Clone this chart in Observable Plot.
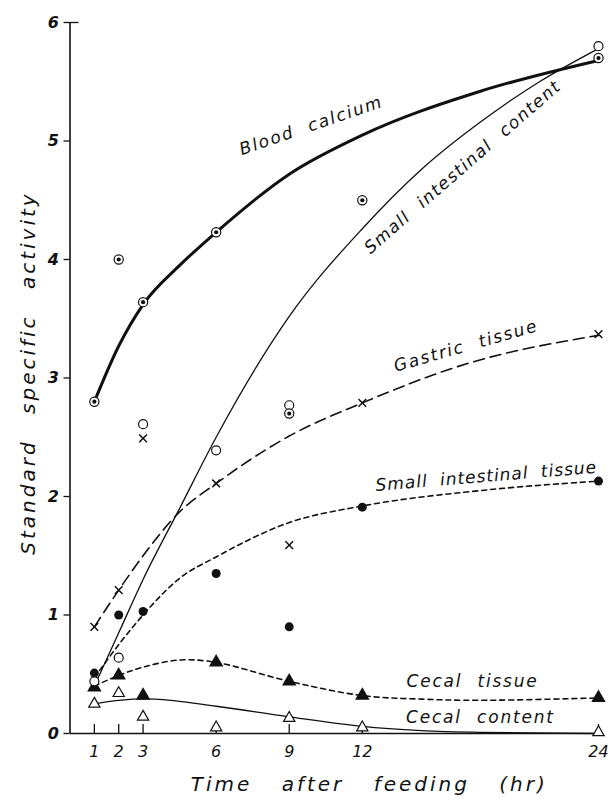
<!DOCTYPE html>
<html><head><meta charset="utf-8">
<script src="https://cdn.jsdelivr.net/npm/d3@7"></script>
<script src="https://cdn.jsdelivr.net/npm/@observablehq/plot@0.6"></script>
<style>body{margin:0;background:#fff} #chart svg{display:block}</style>
</head><body><div id="chart"></div>
<script>
// Sampling times (hr) and measured points
const times = [1, 2, 3, 6, 9, 12, 24];
const bloodCalcium      = [2.80, 4.00, 3.64, 4.23, 2.70, 4.50, 5.70];
const smallIntContent   = [0.44, 0.64, 2.61, 2.39, 2.77, null, 5.80];
const gastricTissue     = [0.90, 1.21, 2.49, 2.11, 1.59, 2.79, 3.37];
const smallIntTissue    = [0.51, 1.00, 1.03, 1.35, 0.90, 1.91, 2.13];
const cecalTissue       = [0.39, 0.49, 0.32, 0.60, 0.44, 0.32, 0.30];
const cecalContent      = [0.25, 0.34, 0.14, 0.05, 0.13, 0.05, 0.01];

// Hand-fitted curves
const bcCurveT  = [1, 2, 3, 4.5, 6, 9, 12, 18, 24];
const bcCurveV  = [2.80, 3.27, 3.62, 3.95, 4.23, 4.72, 5.05, 5.42, 5.68];
const sicCurveT = [1, 2, 3, 4.5, 6, 9, 12, 15, 18, 21, 24];
const sicCurveV = [0.40, 0.85, 1.30, 1.90, 2.50, 3.52, 4.26, 4.76, 5.16, 5.50, 5.78];
const gtCurveT  = [1, 2, 3, 4.5, 6, 9, 12, 17.3, 24];
const gtCurveV  = [0.90, 1.21, 1.50, 1.87, 2.11, 2.51, 2.79, 3.12, 3.36];
const sitCurveT = [1, 2, 3, 4.5, 6, 9, 12, 18, 24];
const sitCurveV = [0.47, 0.75, 1.00, 1.31, 1.49, 1.78, 1.92, 2.05, 2.13];
const ctCurveT  = [1, 2, 3, 4.5, 6, 9, 12, 15, 18, 24];
const ctCurveV  = [0.40, 0.49, 0.56, 0.62, 0.60, 0.44, 0.32, 0.29, 0.28, 0.30];
const ccCurveT  = [1, 2, 3.5, 6, 9, 12, 15, 18, 24];
const ccCurveV  = [0.25, 0.28, 0.29, 0.23, 0.14, 0.06, 0.025, 0.01, 0.0];

const xTicks = [1, 2, 3, 6, 9, 12, 24];
const yTicks = [0, 1, 2, 3, 4, 5, 6];
const xTitle = "Time after feeding (hr)";
const yTitle = "Standard specific activity";
const curveLabels = ["Blood calcium", "Small intestinal content", "Gastric tissue",
                     "Small intestinal tissue", "Cecal tissue", "Cecal content"];

// The original's time axis is drawn more compactly beyond 12 hr
const K = 0.808;
const compress = t => (t <= 12 ? t : 12 + (t - 12) * K);
const expand = u => (u <= 12 ? u : 12 + (u - 12) / K);

const pts = arr => times.map((t, i) => ({t, v: arr[i]})).filter(d => d.v != null);
const crv = (T, V) => T.map((t, i) => ({t, v: V[i]}));
const X = d => compress(d.t);

const W = 612, H = 808;
const mL = 69.5, mR = 14, mT = 22, mB = 75;
const ink = "#111";
const lbl = {fontSize: 17, fontStyle: "italic", fill: ink};
const curveOpt = {x: X, y: "v", stroke: ink};

const chart = Plot.plot({
  width: W, height: H,
  marginLeft: mL, marginRight: mR, marginTop: mT, marginBottom: mB,
  style: {fontFamily: "DejaVu Sans", background: "#fff", color: ink},
  x: {domain: [0, compress(24)]},
  y: {domain: [0, 6]},
  marks: [
    Plot.ruleX([0], {stroke: ink, strokeWidth: 1.6}),
    Plot.ruleY([0], {stroke: ink, strokeWidth: 1.6}),
    Plot.axisY({ticks: yTicks, tickFormat: "d", tickSize: 6, tickPadding: 5, fontSize: 16, fontStyle: "italic", fontWeight: "bold", label: null, stroke: ink, strokeWidth: 1.3}),
    Plot.axisY({ticks: [6], tickSize: -9, tickFormat: () => "", label: null, strokeWidth: 1.3}),
    Plot.axisX({ticks: xTicks.map(compress), tickSize: -9, tickFormat: () => "", label: null, strokeWidth: 1.3}),
    Plot.axisX({ticks: xTicks.map(compress), tickFormat: u => String(Math.round(expand(u))), tickSize: 0, tickPadding: 12, fontSize: 16, fontStyle: "italic", label: null}),

    Plot.line(crv(bcCurveT, bcCurveV),   {...curveOpt, curve: "monotone-x", strokeWidth: 3}),
    Plot.line(crv(sicCurveT, sicCurveV), {...curveOpt, curve: "monotone-x", strokeWidth: 1.3}),
    Plot.line(crv(gtCurveT, gtCurveV),   {...curveOpt, curve: "monotone-x", strokeWidth: 1.6, strokeDasharray: "11,6"}),
    Plot.line(crv(sitCurveT, sitCurveV), {...curveOpt, curve: "monotone-x", strokeWidth: 1.6, strokeDasharray: "5,4"}),
    Plot.line(crv(ctCurveT, ctCurveV),   {...curveOpt, curve: "catmull-rom", strokeWidth: 1.6, strokeDasharray: "5,4"}),
    Plot.line(crv(ccCurveT, ccCurveV),   {...curveOpt, curve: "catmull-rom", strokeWidth: 1.3}),

    Plot.dot(pts(cecalContent),   {x: X, y: "v", symbol: "triangle", r: 4.2, fill: "white", stroke: ink, strokeWidth: 1.2}),
    Plot.dot(pts(cecalTissue),    {x: X, y: "v", symbol: "triangle", r: 4.4, fill: ink, stroke: ink}),
    Plot.dot(pts(smallIntTissue), {x: X, y: "v", r: 4.5, fill: ink}),
    Plot.dot(pts(gastricTissue),  {x: X, y: "v", symbol: "times", r: 3.6, stroke: ink, strokeWidth: 1.5}),
    Plot.dot(pts(smallIntContent),{x: X, y: "v", r: 4.5, fill: "white", stroke: ink, strokeWidth: 1.2}),
    Plot.dot(pts(bloodCalcium),   {x: X, y: "v", r: 4.6, fill: "white", stroke: ink, strokeWidth: 1.2}),
    Plot.dot(pts(bloodCalcium),   {x: X, y: "v", r: 2.1, fill: ink}),

    Plot.text([curveLabels[0]], {...lbl, x: compress(9.9),  y: 5.13, rotate: -19}),
    Plot.text([curveLabels[1]], {...lbl, x: compress(17.1), y: 4.78, rotate: -41}),
    Plot.text([curveLabels[2]], {...lbl, x: compress(17.27), y: 3.27, rotate: -16}),
    Plot.text([curveLabels[3]], {...lbl, x: compress(18.3), y: 2.17, rotate: -4.7}),
    Plot.text([curveLabels[4]], {...lbl, x: compress(17.6), y: 0.44}),
    Plot.text([curveLabels[5]], {...lbl, x: compress(18.0), y: 0.135}),

    Plot.text([xTitle], {frameAnchor: "bottom", textAnchor: "middle", dy: 57, dx: 35, fontSize: 20, fontStyle: "italic", fill: ink}),
    Plot.text([yTitle], {frameAnchor: "left", textAnchor: "middle", dx: -41, dy: -5, rotate: -90, fontSize: 20, fontStyle: "italic", fill: ink})
  ]
});

const svg = d3.select(chart);
svg.selectAll("text").filter(function () { return curveLabels.includes(this.textContent); })
  .attr("letter-spacing", "1.8px").attr("word-spacing", "8px");
svg.selectAll("text").filter(function () { return this.textContent === "Small intestinal tissue"; })
  .attr("letter-spacing", "1px").attr("word-spacing", "6px");
svg.selectAll("text").filter(function () { return this.textContent === "Small intestinal content"; })
  .attr("letter-spacing", "1.5px");
svg.selectAll("text").filter(function () { return this.textContent === xTitle; })
  .attr("letter-spacing", "3px").attr("word-spacing", "20px");
svg.selectAll("text").filter(function () { return this.textContent === yTitle; })
  .attr("letter-spacing", "3px").attr("word-spacing", "16px");
document.getElementById("chart").appendChild(chart);
</script>
</body></html>
